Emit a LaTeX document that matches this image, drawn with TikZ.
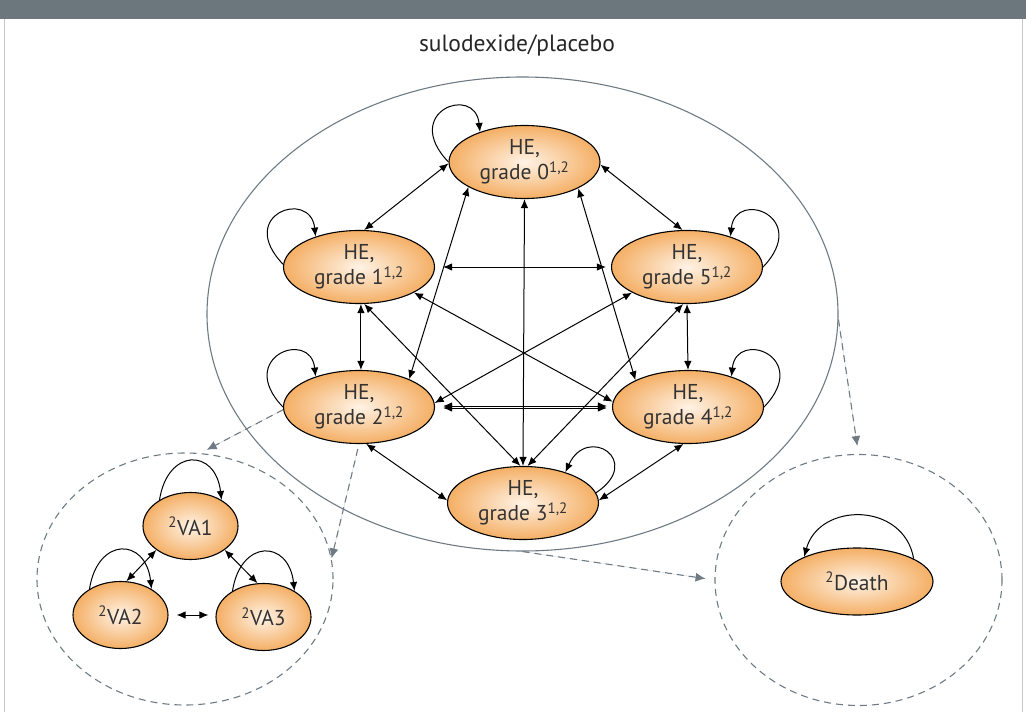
\documentclass[tikz,border=0pt]{standalone}
\usepackage{fontspec}
\setmainfont{PT Sans}
\usetikzlibrary{shapes.geometric,arrows.meta}
\definecolor{barc}{HTML}{6B767D}
\definecolor{grayc}{HTML}{6E7B84}
\definecolor{orouter}{HTML}{F4AF65}
\definecolor{orinner}{HTML}{FFF3E6}
\definecolor{txt}{HTML}{333333}
\begin{document}
\begin{tikzpicture}[x=1pt,y=-1pt,
  st/.style={ellipse, draw=black, line width=1.1pt, inner color=orinner, outer color=orouter,
    minimum width=151pt, minimum height=73pt, inner sep=0pt, align=center, text=txt,
    font=\fontsize{21.5}{25}\selectfont},
  vast/.style={st, minimum width=95pt, minimum height=67pt},
  deathst/.style={st, minimum width=152pt, minimum height=67pt},
  arr/.style={{Latex[length=9pt,width=7.5pt]}-{Latex[length=9pt,width=7.5pt]}, line width=1pt, draw=black},
  loopar/.style={-{Latex[length=9pt,width=7.5pt]}, line width=1pt, draw=black},
  darr/.style={-{Latex[length=10pt,width=9pt]}, line width=1.1pt, draw=grayc, fill=grayc, dash pattern=on 7pt off 5pt},
  cluster/.style={ellipse, draw=grayc, line width=1.1pt, inner sep=0pt},
]
\useasboundingbox (0,0) rectangle (1026,712);
\fill[barc] (0,0) rectangle (1026,19);
\draw[gray!45, line width=0.8pt] (4,19) -- (4,712);
\draw[gray!45, line width=0.8pt] (1022,19) -- (1022,712);

\node[text=black!85, font=\fontsize{23.5}{27}\selectfont] (title) at (517,45) {sulodexide/placebo};

% clusters
\node[cluster, minimum width=631pt, minimum height=474pt] (big) at (522.5,314) {};
\node[cluster, dash pattern=on 7pt off 5pt, minimum width=296pt, minimum height=252pt] (lc) at (185,579) {};
\node[cluster, dash pattern=on 7pt off 5pt, minimum width=287pt, minimum height=251pt] (dc) at (858.5,580) {};

% HE nodes
\node[st] (g0) at (524.5,162) {HE,\\grade 0\textsuperscript{1,2}};
\node[st] (g1) at (359,267) {HE,\\grade 1\textsuperscript{1,2}};
\node[st] (g5) at (687,267) {HE,\\grade 5\textsuperscript{1,2}};
\node[st] (g2) at (359,407) {HE,\\grade 2\textsuperscript{1,2}};
\node[st] (g4) at (688,407) {HE,\\grade 4\textsuperscript{1,2}};
\node[st] (g3) at (523,503) {HE,\\grade 3\textsuperscript{1,2}};

% VA nodes
\node[vast] (va1) at (190.5,526) {\textsuperscript{2}VA1};
\node[vast] (va2) at (120.5,615) {\textsuperscript{2}VA2};
\node[vast] (va3) at (263.5,617) {\textsuperscript{2}VA3};
\node[deathst] (death) at (857,581.5) {\textsuperscript{2}Death};

% straight arrows between HE grades
\draw[arr] (g0.181) -- (g1.82);
\draw[arr] (g0.358) -- (g5.97);
\draw[arr] (g0.south) -- (g3.north);
\draw[arr] (g0.204) -- (g2.29);
\draw[arr] (g0.334) -- (g4.153);
\draw[arr, shorten <=8pt, shorten >=5pt] (g1.east) -- (g5.west);
\draw[arr, shorten <=8pt, shorten >=5pt] ([yshift=1pt]g2.east) -- ([yshift=1pt]g4.west);
\draw[arr, shorten <=8pt, shorten >=5pt] ([yshift=-1pt]g2.east) -- ([yshift=-1pt]g4.west);
\draw[arr] (g1.335) -- (g4.176);
\draw[arr] (g5.205) -- (g2.3);
\draw[arr] (g1.278) -- (g3.94);
\draw[arr] (g5.264) -- (g3.83);
\draw[arr] (g1.273) -- (g2.87);
\draw[arr] (g5.south) -- (g4.north);
\draw[arr] (g2.281) -- (g3.178);
\draw[arr] (g4.263) -- (g3.2);

% self loops
\draw[loopar] (g0.180) .. controls +(-48,-50) and +(-5,-48) .. (g0.146);
\draw[loopar] (g1.178) .. controls +(-48,-50) and +(-5,-48) .. (g1.145);
\draw[loopar] (g2.180) .. controls +(-48,-50) and +(-5,-48) .. (g2.145);
\draw[loopar] (g5.0) .. controls +(48,-50) and +(5,-48) .. (g5.35);
\draw[loopar] (g4.0) .. controls +(48,-50) and +(5,-48) .. (g4.35);
\draw[loopar] (g3.8) .. controls +(48,-32) and +(22,-48) .. (g3.36);

% VA arrows
\draw[arr] (va1.215) -- (va2.80);
\draw[arr] (va1.325) -- (va3.100);
\draw[arr, shorten <=8pt, shorten >=7pt] (va2.east) -- (va3.west |- va2.east);
\draw[loopar] (va1.140) .. controls +(8,-52) and +(-6,-52) .. (va1.40);
\draw[loopar] (va2.140) .. controls +(8,-52) and +(-6,-52) .. (va2.40);
\draw[loopar] (va3.140) .. controls +(8,-52) and +(-6,-52) .. (va3.40);

% death loop
\draw[loopar] (death.22) .. controls +(-10,-57) and +(15,-55) .. (death.155);

% dashed transitions
\draw[darr, shorten >=7pt] (g2.182) -- (lc.83);
\draw[darr, shorten <=5pt] (g2.south) -- (lc.8);
\draw[darr, shorten >=9pt] (big.south) -- (dc.180);
\draw[darr, shorten >=8pt] (big.359) -- (dc.north);
\end{tikzpicture}
\end{document}
